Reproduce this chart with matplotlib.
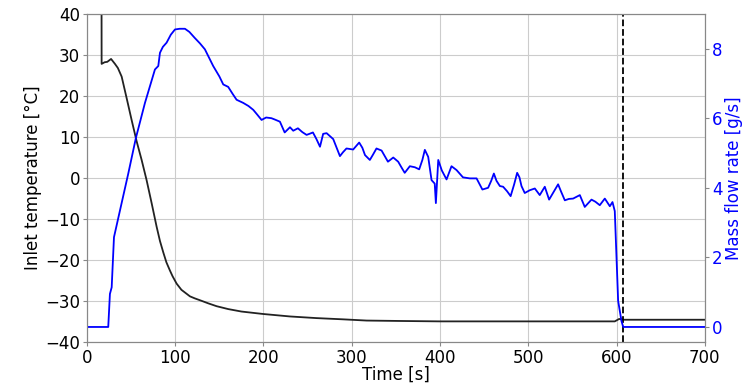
import matplotlib
matplotlib.use("Agg")
import matplotlib.pyplot as plt

# inlet temperature (black, left axis)
t_temp = [16.5, 16.6, 20, 23, 27.3, 31.7, 35, 39.3, 45, 50.6, 56.3, 61.9,
          67.5, 73.3, 78.9, 82.7, 86.5, 90, 94, 97, 101.6, 107, 116.7, 122.3,
          130, 137.4, 146.9, 160, 175, 199.7, 230, 260, 290, 316.8, 354.5,
          400, 450, 500, 550, 590, 598, 603, 607, 610, 700]
temp = [45, 27.8, 28.2, 28.3, 29, 27.8, 26.8, 24.7, 19.4, 14.1, 8.9, 4.4,
        -0.5, -6.2, -11.9, -15.4, -18.2, -20.6, -22.6, -24.0, -25.8, -27.3,
        -28.9, -29.4, -30.0, -30.6, -31.3, -32.0, -32.6, -33.2, -33.8, -34.2,
        -34.5, -34.8, -34.9, -35, -35, -35, -35, -35, -35, -34.4, -34.6,
        -34.6, -34.6]

# mass flow rate (blue, right axis)
t_flow = [0, 24.1, 26, 28, 30.6, 37.4, 46.8, 55.5, 65.7, 77, 80.8, 82.7, 86,
          90.2, 95, 99.7, 105, 111, 116, 122, 128, 133.6, 143, 150, 154.4,
          160, 165, 169.5, 177, 183, 188.4, 193, 197.8, 203, 209, 213, 218.6,
          224, 230, 233.7, 239, 244, 248.8, 252, 256, 260, 264, 267.6, 271.5,
          279, 286.6, 290, 294, 301.6, 308.4, 312, 315, 320.5, 324, 328, 333.8,
          341, 347, 352.6, 356, 360, 365.8, 371.5, 376.4, 380, 382.8, 386.6,
          390.4, 394, 395.3, 398, 402, 407.4, 413, 418.7, 426, 433.8, 441.4,
          448, 454.5, 458, 461, 464, 467.8, 471.5, 476, 480, 484, 487.4, 490,
          492.3, 496, 501.7, 507.4, 513, 518.7, 523.6, 528, 533.8, 537, 541.4,
          546, 550.8, 558.4, 564, 571.6, 576, 581, 586.7, 592.4, 595.4, 598,
          601.8, 605.6, 607.5, 700]
flow = [0, 0, 0.95, 1.14, 2.58, 3.35, 4.41, 5.44, 6.44, 7.4, 7.5, 7.88, 8.05,
        8.17, 8.4, 8.55, 8.57, 8.57, 8.48, 8.31, 8.15, 7.98, 7.5, 7.2, 6.97,
        6.9, 6.7, 6.53, 6.44, 6.35, 6.24, 6.1, 5.95, 6.02, 6.0, 5.96, 5.9,
        5.59, 5.74, 5.64, 5.71, 5.6, 5.52, 5.55, 5.59, 5.4, 5.18, 5.55, 5.57,
        5.4, 4.91, 5.02, 5.13, 5.1, 5.3, 5.15, 4.94, 4.8, 4.95, 5.13, 5.07,
        4.75, 4.87, 4.75, 4.6, 4.43, 4.62, 4.59, 4.53, 4.8, 5.09, 4.89, 4.22,
        4.12, 3.56, 4.8, 4.5, 4.24, 4.62, 4.51, 4.3, 4.27, 4.27, 3.95, 4.0,
        4.2, 4.41, 4.2, 4.05, 4.03, 3.9, 3.76, 4.1, 4.43, 4.3, 4.05, 3.85,
        3.93, 3.98, 3.79, 4.03, 3.66, 3.85, 4.1, 3.9, 3.64, 3.68, 3.69, 3.79,
        3.45, 3.66, 3.6, 3.5, 3.69, 3.47, 3.59, 3.33, 0.75, 0.17, 0.0, 0.0]

t_stop = 607

fig, ax = plt.subplots(figsize=(7.53, 3.85), dpi=100)
fig.subplots_adjust(left=0.1155, right=0.936, bottom=0.112, top=0.964)

ax.plot(t_temp, temp, color="#222222", lw=1.3)
ax.axvline(t_stop, color="black", ls="--", lw=1.3)
ax.set_xlim(0, 700)
ax.set_ylim(-40, 40)
ax.set_xticks(range(0, 701, 100))
ax.set_yticks(range(-40, 41, 10))
ax.set_xlabel("Time [s]", fontsize=12, labelpad=-1)
ax.set_ylabel("Inlet temperature [°C]", fontsize=12, labelpad=2)
ax.grid(color="#cccccc", lw=0.8)
ax.tick_params(labelsize=12, color="#888888", length=3, pad=2)
for s in ax.spines.values():
    s.set_color("#888888")

ax2 = ax.twinx()
ax2.plot(t_flow, flow, color="blue", lw=1.3)
ax2.set_yticks([0, 2, 4, 6, 8])
ax2.set_ylabel("Mass flow rate [g/s]", color="blue", fontsize=12, labelpad=2)
ax2.tick_params(labelsize=12, colors="blue", length=3, pad=2)
ax2.tick_params(axis="y", color="#888888")
for s in ax2.spines.values():
    s.set_color("#888888")

fig.savefig("out.png", dpi=100)
